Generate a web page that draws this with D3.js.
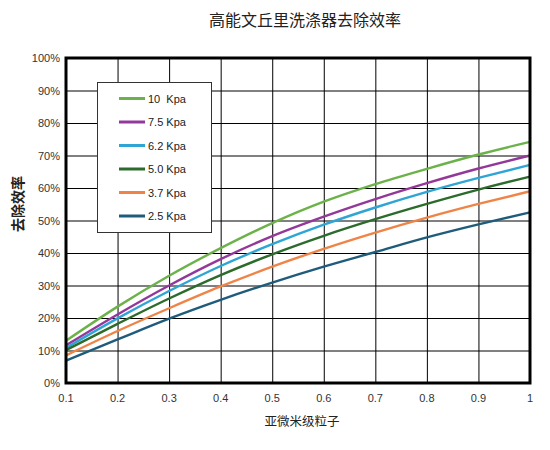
<!DOCTYPE html>
<html>
<head>
<meta charset="utf-8">
<script src="https://cdn.jsdelivr.net/npm/d3@7"></script>
<style>
  body { margin: 0; background: #fff; }
  text { font-family: "Liberation Sans", Arial, sans-serif; }
  .cjk { font-family: "Noto Sans CJK SC", sans-serif; }
</style>
</head>
<body>
<script>
// particle size (um)
const sizes = [0.1, 0.2, 0.3, 0.4, 0.5, 0.6, 0.7, 0.8, 0.9, 1.0];

// removal efficiency (%) per pressure drop
const kpa10  = [13.0, 23.5, 33.0, 41.5, 49.2, 55.8, 61.2, 65.9, 70.3, 74.2];
const kpa75  = [11.6, 21.1, 30.0, 38.1, 45.2, 51.2, 56.6, 61.5, 66.0, 70.0];
const kpa62  = [10.8, 19.9, 28.3, 36.0, 42.7, 48.7, 54.0, 58.8, 63.1, 67.1];
const kpa50  = [10.1, 18.2, 26.0, 33.2, 39.6, 45.3, 50.4, 55.1, 59.5, 63.5];
const kpa37  = [8.5, 16.0, 23.0, 29.7, 35.8, 41.3, 46.3, 50.9, 55.1, 59.0];
const kpa25  = [6.9, 13.4, 19.8, 25.6, 30.9, 35.8, 40.3, 44.8, 48.8, 52.5];

const seriesNames = ["10  Kpa", "7.5 Kpa", "6.2 Kpa", "5.0 Kpa", "3.7 Kpa", "2.5 Kpa"];
const seriesValues = [kpa10, kpa75, kpa62, kpa50, kpa37, kpa25];
const seriesColors = ["#6cb24a", "#93389a", "#2fa5d6", "#2b6b2b", "#ef8446", "#1f5c7c"];

const xTicks = [0.1, 0.2, 0.3, 0.4, 0.5, 0.6, 0.7, 0.8, 0.9, 1];
const yTicks = [0, 10, 20, 30, 40, 50, 60, 70, 80, 90, 100];

const W = 550, H = 450;
const plotL = 66, plotR = 530, plotT = 58, plotB = 383;

const svg = d3.select("body").append("svg").attr("width", W).attr("height", H);

const x = d3.scaleLinear().domain([0.1, 1]).range([plotL, plotR]);
const y = d3.scaleLinear().domain([0, 100]).range([plotB, plotT]);

// grid
svg.append("g")
    .attr("transform", "translate(0," + plotB + ")")
    .call(d3.axisBottom(x).tickValues(xTicks).tickSize(-(plotB - plotT)).tickFormat(""))
    .call(g => g.select(".domain").remove())
    .selectAll("line").attr("stroke", "#000").attr("stroke-width", 1);

svg.append("g")
    .attr("transform", "translate(" + plotL + ",0)")
    .call(d3.axisLeft(y).tickValues(yTicks).tickSize(-(plotR - plotL)).tickFormat(""))
    .call(g => g.select(".domain").remove())
    .selectAll("line").attr("stroke", "#000").attr("stroke-width", 1);

// tick labels
svg.append("g").selectAll("text").data(yTicks).enter().append("text")
    .attr("x", plotL - 6)
    .attr("y", d => y(d) + 4)
    .attr("text-anchor", "end")
    .attr("font-size", 11)
    .attr("fill", "#333")
    .text(d => d + "%");

svg.append("g").selectAll("text").data(xTicks).enter().append("text")
    .attr("x", d => x(d))
    .attr("y", plotB + 19)
    .attr("text-anchor", "middle")
    .attr("font-size", 11)
    .attr("fill", "#333")
    .text(d => d);

// curves
const line = d3.line()
    .x((d, i) => x(sizes[i]))
    .y(d => y(d))
    .curve(d3.curveMonotoneX);

svg.append("g").selectAll("path").data(seriesValues).enter().append("path")
    .attr("d", line)
    .attr("fill", "none")
    .attr("stroke", (d, i) => seriesColors[i])
    .attr("stroke-width", 2.4);

// frame
svg.append("rect")
    .attr("x", plotL).attr("y", plotT)
    .attr("width", plotR - plotL).attr("height", plotB - plotT)
    .attr("fill", "none").attr("stroke", "#000").attr("stroke-width", 3);

// legend
const lg = svg.append("g");
lg.append("rect")
    .attr("x", 97.5).attr("y", 82.5).attr("width", 114).attr("height", 150)
    .attr("fill", "#fff").attr("stroke", "#333").attr("stroke-width", 1);

const items = lg.selectAll("g.item").data(seriesNames).enter().append("g")
    .attr("transform", (d, i) => "translate(0," + (98.5 + i * 23.5) + ")");
items.append("line")
    .attr("x1", 119).attr("x2", 145)
    .attr("stroke", (d, i) => seriesColors[i]).attr("stroke-width", 3);
items.append("text")
    .attr("x", 148).attr("y", 4)
    .attr("font-size", 11)
    .attr("fill", "#222")
    .attr("xml:space", "preserve")
    .text(d => d);

// titles
svg.append("text").attr("class", "cjk")
    .attr("x", 305).attr("y", 26)
    .attr("text-anchor", "middle").attr("font-size", 16).attr("fill", "#222")
    .text("高能文丘里洗涤器去除效率");

svg.append("text").attr("class", "cjk")
    .attr("x", 302).attr("y", 426)
    .attr("text-anchor", "middle").attr("font-size", 12.5).attr("fill", "#222")
    .text("亚微米级粒子");

svg.append("text").attr("class", "cjk")
    .attr("transform", "translate(23,204) rotate(-90)")
    .attr("text-anchor", "middle").attr("font-size", 14).attr("font-weight", "bold").attr("fill", "#222")
    .text("去除效率");
</script>
</body>
</html>
